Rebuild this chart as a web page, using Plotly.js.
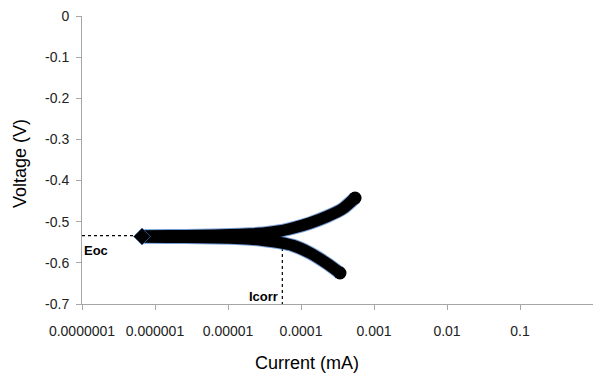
<!DOCTYPE html>
<html>
<head>
<meta charset="utf-8">
<script src="https://cdn.plot.ly/plotly-3.0.1.min.js"></script>
<style>
  html, body { margin: 0; padding: 0; background: #ffffff; }
  #chart { width: 593px; height: 378px; }
</style>
</head>
<body>
<div id="chart"></div>
<script>
// Current (mA) and voltage (V)
const anodicCurrent = [6.64e-7, 1.60e-6, 4.13e-6, 1.06e-5, 2.00e-5, 3.21e-5, 5.16e-5, 7.77e-5, 1.33e-4, 2.27e-4, 3.76e-4, 5.50e-4];
const anodicVoltage = [-0.5348, -0.5343, -0.5335, -0.5318, -0.5299, -0.5275, -0.5226, -0.5153, -0.5032, -0.4874, -0.4679, -0.4424];
const cathodicCurrent = [6.64e-7, 1.60e-6, 4.13e-6, 1.06e-5, 2.00e-5, 3.21e-5, 5.16e-5, 7.77e-5, 1.33e-4, 2.27e-4, 3.42e-4];
const cathodicVoltage = [-0.5372, -0.5377, -0.5384, -0.5396, -0.5420, -0.5457, -0.5510, -0.5579, -0.5761, -0.6016, -0.6247];

const eocLineCurrent = [1e-7, 5.5e-7];
const eocLineVoltage = [-0.534, -0.534];
const icorrLineCurrent = [5.55e-5, 5.55e-5];
const icorrLineVoltage = [-0.564, -0.7];

const xTickVals = [1e-7, 1e-6, 1e-5, 1e-4, 1e-3, 1e-2, 1e-1, 1];
const xTickText = ["0.0000001", "0.000001", "0.00001", "0.0001", "0.001", "0.01", "0.1", "1"];
const yTickVals = [0, -0.1, -0.2, -0.3, -0.4, -0.5, -0.6, -0.7];
const yTickText = ["0", "-0.1", "-0.2", "-0.3", "-0.4", "-0.5", "-0.6", "-0.7"];

const edgeBlue = "rgba(61,116,196,0.7)";

function branch(xs, ys, color, width) {
  return { x: xs, y: ys, type: "scatter", mode: "lines",
           line: { color: color, width: width, shape: "spline", smoothing: 0.6 },
           hoverinfo: "skip", showlegend: false };
}
function endMarks(xs, ys, symbol, size, edge) {
  return { x: xs, y: ys, type: "scatter", mode: "markers",
           marker: { symbol: symbol, size: size, color: "#000000",
                     line: { color: edge, width: 1 } },
           hoverinfo: "skip", showlegend: false };
}

const traces = [
  { x: eocLineCurrent, y: eocLineVoltage, type: "scatter", mode: "lines",
    line: { color: "#000000", width: 1.2, dash: "dot" }, hoverinfo: "skip", showlegend: false },
  { x: icorrLineCurrent, y: icorrLineVoltage, type: "scatter", mode: "lines",
    line: { color: "#000000", width: 1.2, dash: "dot" }, hoverinfo: "skip", showlegend: false },
  branch(anodicCurrent, anodicVoltage, edgeBlue, 13.5),
  branch(cathodicCurrent, cathodicVoltage, edgeBlue, 13.5),
  endMarks([anodicCurrent[anodicCurrent.length - 1], cathodicCurrent[cathodicCurrent.length - 1]],
           [anodicVoltage[anodicVoltage.length - 1], cathodicVoltage[cathodicVoltage.length - 1]], "circle", 13, "rgba(0,0,0,0)"),
  branch(anodicCurrent, anodicVoltage, "#000000", 11.5),
  branch(cathodicCurrent, cathodicVoltage, "#000000", 11.5),
  endMarks([anodicCurrent[0]], [(anodicVoltage[0] + cathodicVoltage[0]) / 2], "diamond", 13, edgeBlue),
  endMarks([anodicCurrent[anodicCurrent.length - 1], cathodicCurrent[cathodicCurrent.length - 1]],
           [anodicVoltage[anodicVoltage.length - 1], cathodicVoltage[cathodicVoltage.length - 1]], "circle", 11, "#000000")
];

const baseFont = "Liberation Sans, Arial, sans-serif";
const tickFont = { family: baseFont, size: 14, color: "#222222" };

const layout = {
  width: 593, height: 378,
  margin: { l: 82, r: 0, t: 16, b: 74, pad: 0 },
  paper_bgcolor: "#ffffff", plot_bgcolor: "#ffffff",
  showlegend: false,
  xaxis: {
    type: "log", range: [-7, 0],
    tickmode: "array", tickvals: xTickVals, ticktext: xTickText,
    ticks: "outside", ticklen: 5, tickcolor: "#a6a6a6", tickwidth: 1,
    showline: true, linecolor: "#a6a6a6", linewidth: 1,
    showgrid: false, zeroline: false,
    tickfont: tickFont, ticklabelstandoff: 9
  },
  yaxis: {
    range: [-0.7, 0],
    tickmode: "array", tickvals: yTickVals, ticktext: yTickText,
    ticks: "outside", ticklen: 5, tickcolor: "#a6a6a6", tickwidth: 1,
    showline: true, linecolor: "#a6a6a6", linewidth: 1,
    showgrid: false, zeroline: false,
    tickfont: tickFont, ticklabelstandoff: 4
  },
  annotations: [
    { x: -6.808, y: -0.571, xref: "x", yref: "y", text: "<b>Eoc</b>", showarrow: false,
      font: { family: baseFont, size: 13, color: "#000000" } },
    { x: -4.507, y: -0.6806, xref: "x", yref: "y", text: "<b>Icorr</b>", showarrow: false,
      font: { family: baseFont, size: 13, color: "#000000" } },
    { x: 0.440, y: -0.205, xref: "paper", yref: "paper", text: "Current (mA)", showarrow: false,
      xanchor: "center", yanchor: "middle",
      font: { family: baseFont, size: 18, color: "#000000" } },
    { x: -0.1213, y: 0.486, xref: "paper", yref: "paper", text: "Voltage (V)", showarrow: false,
      textangle: -90, xanchor: "center", yanchor: "middle",
      font: { family: baseFont, size: 18, color: "#000000" } }
  ]
};

Plotly.newPlot("chart", traces, layout, { staticPlot: true, displayModeBar: false });
</script>
</body>
</html>
